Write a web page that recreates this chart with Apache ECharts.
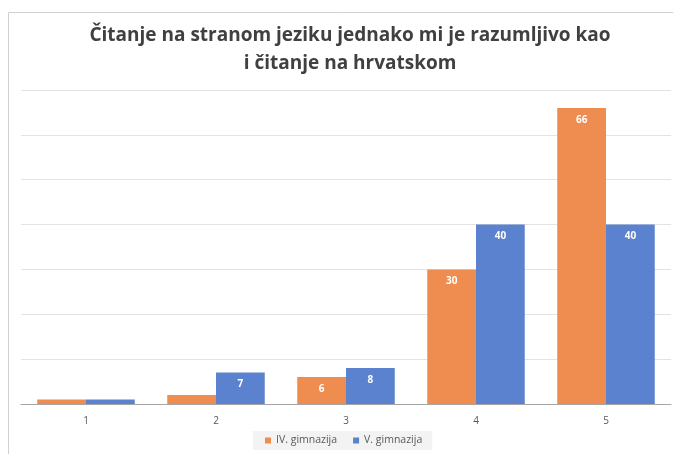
<!DOCTYPE html>
<html>
<head>
<meta charset="utf-8">
<script src="https://cdn.jsdelivr.net/npm/echarts@6/dist/echarts.min.js"></script>
<style>
  html, body { margin: 0; padding: 0; background: #fff; }
  #chart { width: 673px; height: 454px; }
</style>
</head>
<body>
<div id="chart"></div>
<script>
var categories = ['1', '2', '3', '4', '5'];
var seriesNames = ['IV. gimnazija', 'V. gimnazija'];
var gimIV = [1, 2, 6, 30, 66];
var gimV = [1, 7, 8, 40, 40];
var titleText = 'Čitanje na stranom jeziku jednako mi je razumljivo kao\ni čitanje na hrvatskom';

var dom = document.getElementById('chart');
var myChart = echarts.init(dom, null, { renderer: 'canvas' });

function labelFmt(p) {
	return p.value >= 5 ? p.value : '';
}

var barLabel = {
	show: true,
	position: 'insideTop',
	distance: 7,
	color: '#fff',
	fontWeight: 'bold',
	fontSize: 10,
	fontFamily: 'Open Sans',
	formatter: labelFmt
};

var option = {
	animation: false,
	graphic: [
		{
			type: 'rect',
			shape: { x: 8.5, y: 12.5, width: 700, height: 500 },
			style: { fill: 'none', stroke: '#d0d0d0', lineWidth: 1 },
			silent: true
		}
	],
	title: {
		text: titleText,
		left: 345,
		top: 17,
		textAlign: 'center',
		textStyle: {
			color: '#404040',
			fontSize: 19,
			fontWeight: 'bold',
			fontFamily: 'Open Sans',
			lineHeight: 28
		}
	},
	legend: {
		data: seriesNames,
		bottom: 4,
		left: 253,
		itemWidth: 6,
		itemHeight: 6,
		itemGap: 16,
		icon: 'rect',
		backgroundColor: '#f3f3f3',
		padding: [4, 10, 4, 12],
		textStyle: { color: '#595959', fontSize: 10.5, fontFamily: 'Open Sans' }
	},
	grid: {
		left: 21,
		right: 2,
		top: 90,
		bottom: 50
	},
	xAxis: {
		type: 'category',
		data: categories,
		axisLine: { lineStyle: { color: '#a6a6a6', width: 1 } },
		axisTick: { show: false },
		axisLabel: { color: '#595959', fontSize: 10, margin: 12, fontFamily: 'Open Sans' }
	},
	yAxis: {
		type: 'value',
		min: 0,
		max: 70,
		interval: 10,
		axisLabel: { show: false },
		axisLine: { show: false },
		axisTick: { show: false },
		splitLine: { lineStyle: { color: '#e3e3e3', width: 1 } }
	},
	series: [
		{
			name: seriesNames[0],
			type: 'bar',
			data: gimIV,
			color: '#EE8D4F',
			barGap: '0%',
			barCategoryGap: '25%',
			label: barLabel
		},
		{
			name: seriesNames[1],
			type: 'bar',
			data: gimV,
			color: '#5B82CE',
			barGap: '0%',
			barCategoryGap: '25%',
			label: barLabel
		}
	]
};

myChart.setOption(option);
window.addEventListener('resize', myChart.resize);
</script>
</body>
</html>
